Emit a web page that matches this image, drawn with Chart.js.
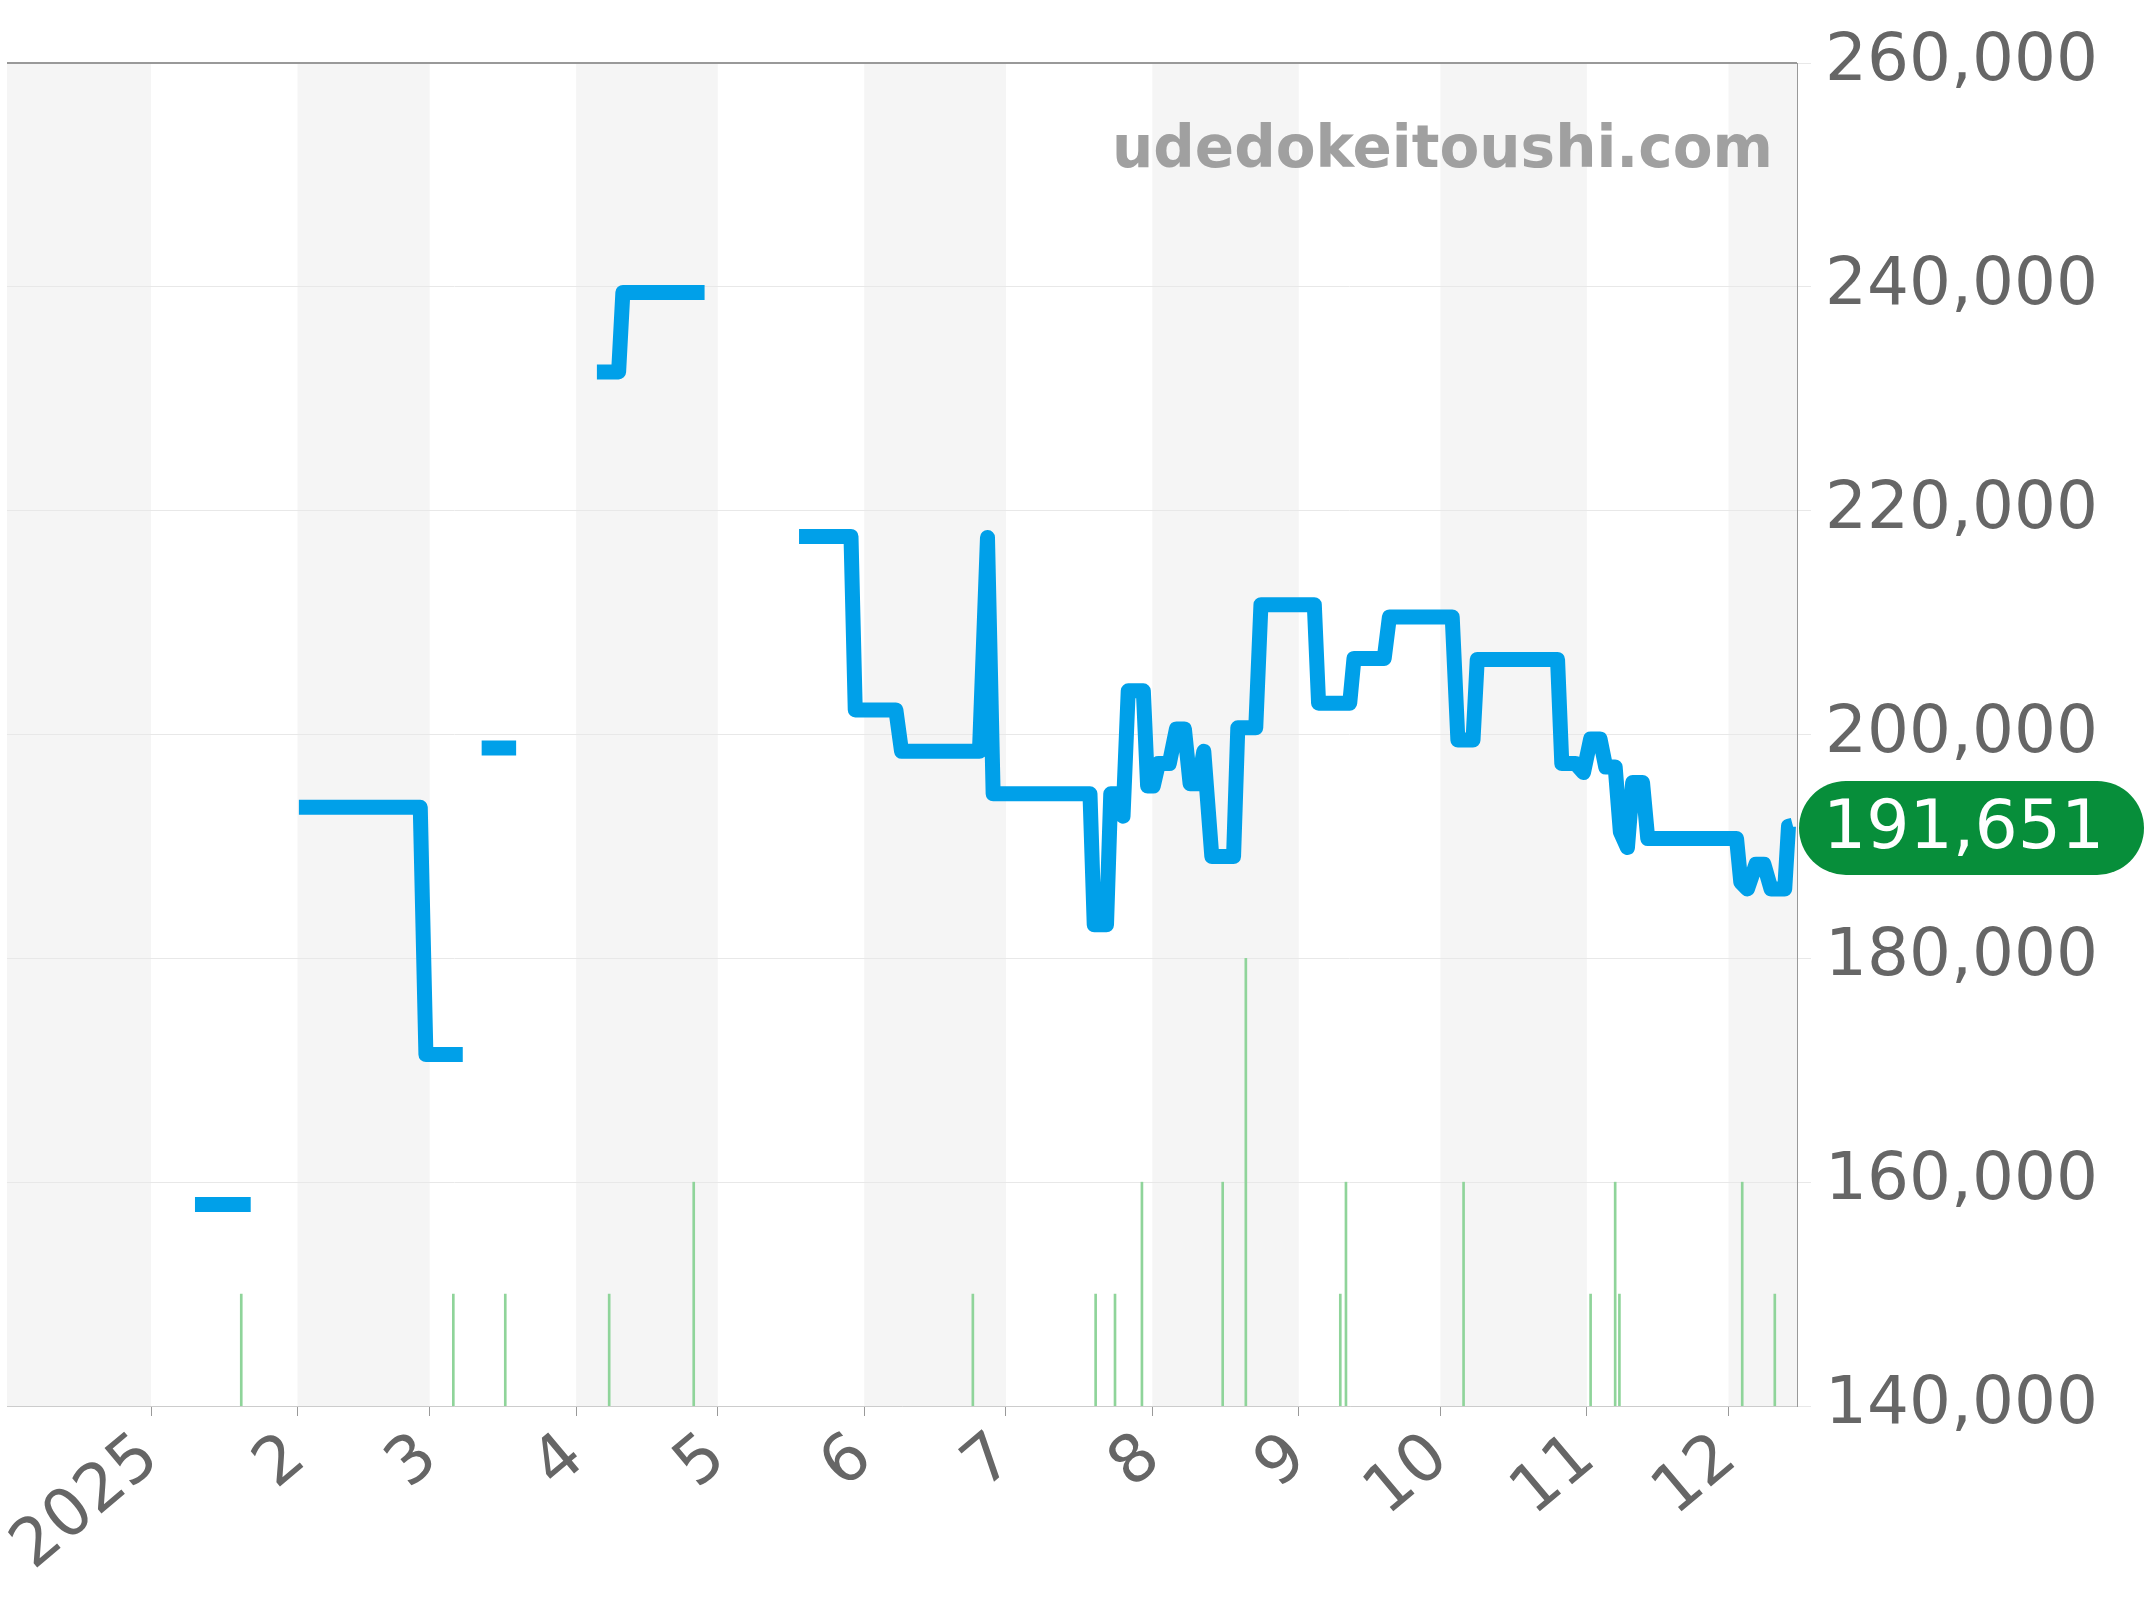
<!DOCTYPE html>
<html><head><meta charset="utf-8">
<script src="https://cdn.jsdelivr.net/npm/chart.js@4"></script>
<style>html,body{margin:0;padding:0;background:#fff}#wrap{width:2144px;height:1600px}</style>
</head><body><div id="wrap"><canvas id="c" width="2144" height="1600"></canvas></div>
<script>
// days counted from 2025-01-01
const priceDays = [9.3,21.1,null, 31.3,57.0,58.2,66.0,null, 70.0,77.3,null, 94.4,99.0,99.9,117.2,null,
  137.2,148.2,149.1,157.7,158.9,175.4,177.1,178.3,198.8,199.7,202.3,203.2,204.3,205.8,206.9,210.1,211.0,212.2,213.3,215.6,217.1,218.8,220.0,221.7,222.9,224.6,229.2,230.1,233.9,235.0,246.3,247.2,253.8,254.7,261.1,262.2,275.5,276.7,279.9,280.8,297.8,298.7,301.6,303.3,304.8,306.8,308.0,310.0,311.1,312.6,313.7,315.8,316.9,335.7,336.6,338.0,339.8,341.5,343.0,345.9,346.7,347.6];
const prices = [158000,158000,null, 193500,193500,171400,171400,null, 198800,198800,null, 232400,232400,239500,239500,null,
  217700,217700,202200,202200,198500,198500,217600,194700,194700,183000,183000,194700,194700,192700,203900,203900,195400,195400,197400,197400,200500,200500,195600,195600,198500,189100,189100,200600,200600,211600,211600,202800,202800,206800,206800,210500,210500,199500,199500,206700,206700,197400,197400,196600,199600,199600,197100,197100,191300,189900,195700,195700,190700,190700,186800,186200,188400,188400,186200,186200,191800,191900];
const volDays = [19.1,64.0,75.0,97.0,114.9,174.0,200.0,204.1,209.8,226.9,231.8,251.8,253.0,277.9,304.8,310.0,310.9,336.9,343.8];
const volTops = [150000,150000,150000,150000,160000,150000,150000,150000,160000,160000,180000,150000,160000,160000,150000,160000,150000,160000,150000];
const monthStarts = [-31,0,31,59,90,120,151,181,212,243,273,304,334];
const monthLabels = ['', '2025','2','3','4','5','6','7','8','9','10','11','12'];
const lastPrice = 191651;

const linePts = priceDays.map((d,i) => d === null ? {x:null,y:null} : {x:d, y:prices[i]});
const volPts = volDays.map((d,i) => ({x:d, y:[140000, volTops[i]]}));

const bands = {
  id:'bands',
  beforeDraw(chart){
    const {ctx, chartArea:a, scales:{x}} = chart;
    ctx.save();
    ctx.fillStyle = '#f5f5f5';
    for (let i = 0; i < monthStarts.length; i += 2) {
      const x0 = Math.max(x.getPixelForValue(monthStarts[i]), a.left);
      const x1 = i+1 < monthStarts.length ? x.getPixelForValue(monthStarts[i+1]) : a.right;
      ctx.fillRect(x0, a.top, Math.min(x1, a.right) - x0, a.bottom - a.top);
    }
    ctx.restore();
  },
  afterDraw(chart){
    const {ctx, chartArea:a, scales:{y}} = chart;
    ctx.save();
    ctx.strokeStyle = '#999'; ctx.lineWidth = 2;
    ctx.beginPath(); ctx.moveTo(a.left, a.top); ctx.lineTo(a.right, a.top); ctx.stroke();
    ctx.font = 'bold 58px "DejaVu Sans"';
    ctx.fillStyle = '#a0a0a0'; ctx.textAlign = 'right'; ctx.textBaseline = 'middle';
    ctx.fillText('udedokeitoushi.com', a.right - 24, 152);
    const py = y.getPixelForValue(lastPrice);
    ctx.fillStyle = '#078e3a';
    ctx.beginPath(); ctx.roundRect(a.right + 2, py - 47, 2144 - a.right - 2, 94, 47); ctx.fill();
    ctx.fillStyle = '#fff'; ctx.textAlign = 'left';
    ctx.font = '68px "DejaVu Sans"';
    ctx.fillText('191,651', a.right + 26, py + 2);
    ctx.restore();
  }
};

new Chart(document.getElementById('c'), {
  data: {
    datasets: [
      {type:'line', data: linePts, borderColor:'#00a0e9', borderWidth:15, pointRadius:0, spanGaps:false,
       borderJoinStyle:'round', borderCapStyle:'butt', tension:0, order:1},
      {type:'bar', data: volPts, backgroundColor:'#8fd49a', barThickness:2, order:2}
    ]
  },
  options: {
    responsive:false, animation:false,
    layout:{padding:{top:63, left:7, right:0, bottom:0}},
    plugins:{legend:{display:false}, tooltip:{enabled:false}},
    scales:{
      x:{type:'linear', min:-30.5, max:348.5, offset:false,
        afterBuildTicks(s){ s.ticks = monthStarts.slice(1).map(v => ({value:v})); },
        afterFit(s){ s.height = 194; },
        ticks:{autoSkip:false, maxRotation:40, minRotation:40, color:'#666', font:{size:66, family:'DejaVu Sans'},
          callback:(v) => monthLabels[monthStarts.indexOf(v)]},
        grid:{offset:false, drawOnChartArea:false, tickLength:10, color:'#999'}, border:{color:'#ccc'}},
      y:{position:'right', min:140000, max:260000,
        afterFit(s){ s.width = 347; },
        ticks:{stepSize:20000, color:'#666', padding:14, font:{size:66, family:'DejaVu Sans'},
          callback:(v) => v.toLocaleString('en-US')},
        grid:{color:'#e8e8e8', tickLength:14}, border:{color:'#999'}}
    }
  },
  plugins:[bands]
});
</script></body></html>
